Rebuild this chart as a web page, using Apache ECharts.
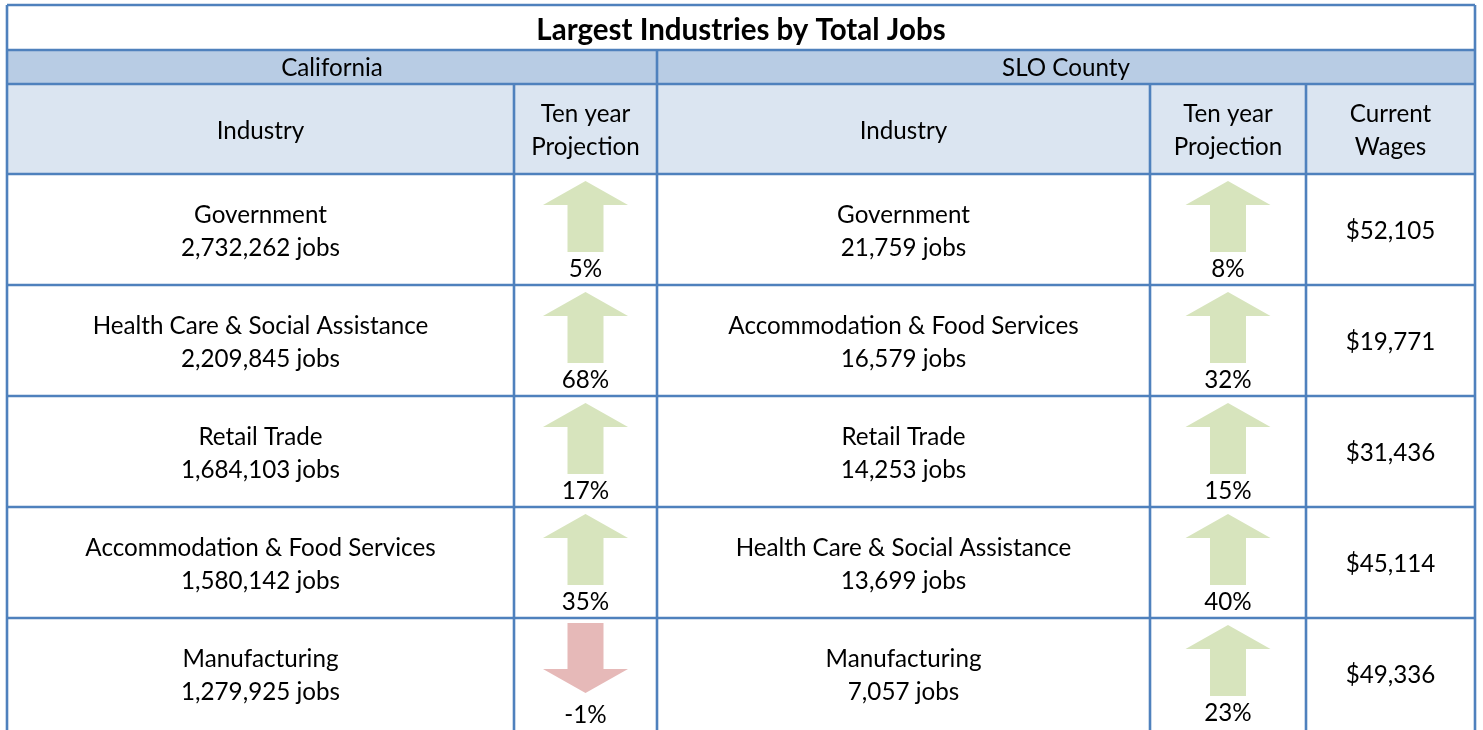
<!DOCTYPE html>
<html>
<head>
<meta charset="utf-8">
<script src="https://cdn.jsdelivr.net/npm/echarts@6/dist/echarts.min.js"></script>
<style>
html,body{margin:0;padding:0;background:#fff;}
#chart{width:1483px;height:730px;}
</style>
</head>
<body>
<div id="chart"></div>
<script>
// ---- data ----
const title = 'Largest Industries by Total Jobs';
const regions = ['California', 'SLO County'];
const columnHeaders = ['Industry', 'Ten year\nProjection', 'Industry', 'Ten year\nProjection', 'Current\nWages'];
const caIndustry = ['Government', 'Health Care & Social Assistance', 'Retail Trade', 'Accommodation & Food Services', 'Manufacturing'];
const caJobs = [2732262, 2209845, 1684103, 1580142, 1279925];
const caProjection = [5, 68, 17, 35, -1];
const sloIndustry = ['Government', 'Accommodation & Food Services', 'Retail Trade', 'Health Care & Social Assistance', 'Manufacturing'];
const sloJobs = [21759, 16579, 14253, 13699, 7057];
const sloProjection = [8, 32, 15, 40, 23];
const sloWages = [52105, 19771, 31436, 45114, 49336];

// ---- layout / style ----
const W = 1483, H = 730;
const LAYOUT = {
  colX: [7, 514, 657, 1150, 1306, 1475],
  top: 5, titleBottom: 50, stateBottom: 84, headerBottom: 174, rowH: 111
};
const STYLE = {
  border: '#4F81BD', stateFill: '#B8CCE4', headerFill: '#DBE5F1',
  up: '#D7E4BD', down: '#E6B9B8', text: '#000000',
  font: 'Lato, "Open Sans", sans-serif', size: 24.2, lineH: 33, lw: 2.6
};

const fmt = n => n.toLocaleString('en-US');

function txt(p, str, opts) {
  return {
    type: 'text',
    style: Object.assign({
      x: p[0], y: p[1], text: str, fill: STYLE.text,
      fontFamily: STYLE.font, fontSize: STYLE.size,
      align: 'center', verticalAlign: 'middle', lineHeight: STYLE.lineH
    }, opts || {})
  };
}
function line(a, b) {
  return { type: 'line', shape: { x1: a[0], y1: a[1], x2: b[0], y2: b[1] },
    style: { stroke: STYLE.border, lineWidth: STYLE.lw } };
}
function rect(a, b, fill) {
  return { type: 'rect', shape: { x: a[0], y: a[1], width: b[0] - a[0], height: b[1] - a[1] },
    style: { fill: fill } };
}

function arrow(api, cx, top, val) {
  const hw = 42.5, sw = 18;
  let pts;
  if (val >= 0) {
    pts = [[cx, top + 7], [cx + hw, top + 31], [cx + sw, top + 31], [cx + sw, top + 78],
           [cx - sw, top + 78], [cx - sw, top + 31], [cx - hw, top + 31]];
  } else {
    pts = [[cx - sw, top + 5], [cx + sw, top + 5], [cx + sw, top + 51], [cx + hw, top + 51],
           [cx, top + 75], [cx - hw, top + 51], [cx - sw, top + 51]];
  }
  return {
    type: 'polygon',
    shape: { points: pts.map(p => api.coord(p)) },
    style: { fill: val >= 0 ? STYLE.up : STYLE.down }
  };
}

function renderFrame(params, api) {
  const L = LAYOUT, c = L.colX;
  const ch = [];
  const p = (x, y) => api.coord([x, y]);
  ch.push(rect(p(c[0], L.titleBottom), p(c[5], L.stateBottom), STYLE.stateFill));
  ch.push(rect(p(c[0], L.stateBottom), p(c[5], L.headerBottom), STYLE.headerFill));
  [L.top, L.titleBottom, L.stateBottom].forEach(y => ch.push(line(p(c[0], y), p(c[5], y))));
  for (let i = 0; i < caIndustry.length; i++) {
    const y = L.headerBottom + i * L.rowH;
    ch.push(line(p(c[0], y), p(c[5], y)));
  }
  ch.push(line(p(c[0], L.top), p(c[0], H + 10)));
  ch.push(line(p(c[5], L.top), p(c[5], H + 10)));
  ch.push(line(p(c[2], L.titleBottom), p(c[2], H + 10)));
  [1, 3, 4].forEach(k => ch.push(line(p(c[k], L.stateBottom), p(c[k], H + 10))));
  ch.push(txt(p((c[0] + c[5]) / 2, (L.top + L.titleBottom) / 2 + 3), title, { fontWeight: 'bold', fontSize: 29.5 }));
  ch.push(txt(p((c[0] + c[2]) / 2, (L.titleBottom + L.stateBottom) / 2 + 1), regions[0]));
  ch.push(txt(p((c[2] + c[5]) / 2, (L.titleBottom + L.stateBottom) / 2 + 1), regions[1]));
  columnHeaders.forEach((h, k) => {
    ch.push(txt(p((c[k] + c[k + 1]) / 2, (L.stateBottom + L.headerBottom) / 2 + 2), h));
  });
  return { type: 'group', children: ch };
}

function renderRow(params, api) {
  const i = params.dataIndex;
  const L = LAYOUT, c = L.colX;
  const top = L.headerBottom + i * L.rowH;
  const mid = top + L.rowH / 2 + 2;
  const p = (x, y) => api.coord([x, y]);
  const ch = [];
  ch.push(txt(p((c[0] + c[1]) / 2, mid), caIndustry[i] + '\n' + fmt(caJobs[i]) + ' jobs'));
  ch.push(arrow(api, (c[1] + c[2]) / 2, top, caProjection[i]));
  ch.push(txt(p((c[1] + c[2]) / 2, top + (caProjection[i] >= 0 ? 95 : 97)), caProjection[i] + '%'));
  ch.push(txt(p((c[2] + c[3]) / 2, mid), sloIndustry[i] + '\n' + fmt(sloJobs[i]) + ' jobs'));
  ch.push(arrow(api, (c[3] + c[4]) / 2, top, sloProjection[i]));
  ch.push(txt(p((c[3] + c[4]) / 2, top + (sloProjection[i] >= 0 ? 95 : 97)), sloProjection[i] + '%'));
  ch.push(txt(p((c[4] + c[5]) / 2, mid), '$' + fmt(sloWages[i])));
  return { type: 'group', children: ch };
}

const chart = echarts.init(document.getElementById('chart'), null, { renderer: 'canvas' });
chart.setOption({
  animation: false,
  backgroundColor: '#ffffff',
  grid: { left: 0, right: 0, top: 0, bottom: 0 },
  xAxis: { type: 'value', min: 0, max: W, show: false },
  yAxis: { type: 'value', min: 0, max: H, inverse: true, show: false },
  series: [
    { type: 'custom', name: 'frame', data: [[0, 0]], renderItem: renderFrame, silent: true, z: 1 },
    { type: 'custom', name: 'rows', data: caIndustry.map((_, i) => [i, i]), renderItem: renderRow, silent: true, z: 2 }
  ]
});
</script>
</body>
</html>
